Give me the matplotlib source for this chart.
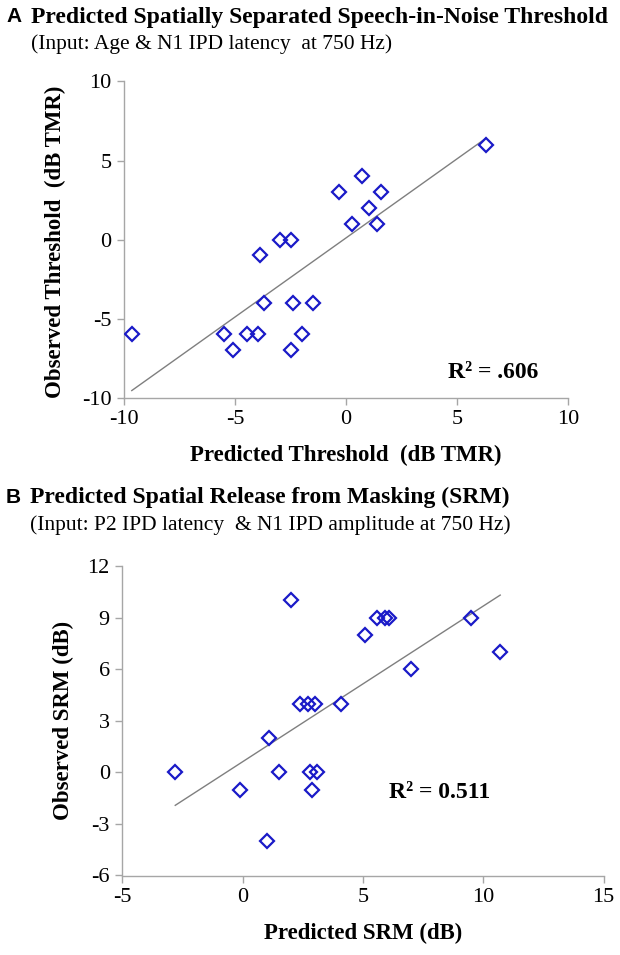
import numpy as np
import matplotlib
matplotlib.use("Agg")
import matplotlib.pyplot as plt

# Panel A: predicted vs observed threshold (dB TMR)
a_pred = [-9.65, -5.5, -5.1, -4.45, -3.95, -3.9, -3.7, -3.0, -2.5, -2.5,
          -2.4, -2.0, -1.5, -0.3, 0.25, 0.7, 1.05, 1.4, 1.55, 6.3]
a_obs = [-6, -6, -7, -6, -6, -1, -4, 0, 0, -7,
         -4, -6, -4, 3, 1, 4, 2, 1, 3, 6]
a_ticks = [-10, -5, 0, 5, 10]

# Panel B: predicted vs observed SRM (dB)
b_pred = [-2.8, -0.1, 1.1, 1.0, 1.5, 2.0, 2.4, 2.7, 3.0, 2.8,
          3.1, 2.9, 4.1, 5.1, 5.6, 5.9, 6.1, 7.0, 9.5, 10.7]
b_obs = [0, -1, 2, -4, 0, 10, 4, 4, 4, 0,
         0, -1, 4, 8, 9, 9, 9, 6, 9, 7]
b_xticks = [-5, 0, 5, 10, 15]
b_yticks = [-6, -3, 0, 3, 6, 9, 12]

W, H = 620, 955
SERIF = "Liberation Serif"
SANS = "Liberation Sans"
BLUE = "#1a1ac8"
AXIS_GREY = "#a6a6a6"
FS = 16


def fx(px):
    return px / W


def fy(py):
    return 1 - py / H


def make_axes(fig, left, right, top, bottom):
    ax = fig.add_axes([fx(left), fy(bottom), fx(right) - fx(left), fy(top) - fy(bottom)])
    for side in ("top", "right"):
        ax.spines[side].set_visible(False)
    for side in ("left", "bottom"):
        ax.spines[side].set_color(AXIS_GREY)
        ax.spines[side].set_linewidth(1.0)
    ax.tick_params(direction="out", length=5, width=1.0, color=AXIS_GREY,
                   labelsize=FS, pad=4)
    return ax


def scatter_fit(ax, xs, ys):
    xs = np.asarray(xs, float)
    ys = np.asarray(ys, float)
    k, b = np.polyfit(xs, ys, 1)
    lx = np.array([xs.min(), xs.max()])
    ax.plot(lx, k * lx + b, color="#7f7f7f", linewidth=1.0, zorder=2)
    ax.plot(xs, ys, linestyle="none", marker="D", markersize=6.8,
            markerfacecolor="none", markeredgecolor=BLUE, markeredgewidth=1.6, zorder=3)


def main():
    fig = plt.figure(figsize=(W / 100, H / 100), dpi=100)
    fig.patch.set_facecolor("white")

    # ---- Panel A ----
    fig.text(fx(6), fy(17), "A", family=SANS, weight="bold", fontsize=15, va="center")
    fig.text(fx(31), fy(17), "Predicted Spatially Separated Speech-in-Noise Threshold",
             family=SERIF, weight="bold", fontsize=17, va="center")
    fig.text(fx(31), fy(44), "(Input: Age & N1 IPD latency  at 750 Hz)",
             family=SERIF, fontsize=15.5, va="center")

    ax = make_axes(fig, 124, 568.3, 81.5, 397.7)
    scatter_fit(ax, a_pred, a_obs)
    ax.set_xlim(-10, 10)
    ax.set_ylim(-10, 10)
    ax.set_xticks(a_ticks)
    ax.set_yticks(a_ticks)
    ax.set_xticklabels([str(t) for t in a_ticks], family=SERIF)
    ax.set_yticklabels([str(t) for t in a_ticks], family=SERIF)
    ax.text(4.6, -8.4, "R² = .606", family=SERIF, weight="bold", fontsize=17,
            ha="left", va="center")
    fig.text(fx(346), fy(455), "Predicted Threshold  (dB TMR)", family=SERIF,
             weight="bold", fontsize=16.5, ha="center", va="center")
    fig.text(fx(55), fy(242), "Observed Threshold  (dB TMR)", family=SERIF,
             weight="bold", fontsize=16.5, ha="center", va="center", rotation=90)

    # ---- Panel B ----
    fig.text(fx(6), fy(497), "B", family=SANS, weight="bold", fontsize=15, va="center")
    fig.text(fx(30), fy(497), "Predicted Spatial Release from Masking (SRM)",
             family=SERIF, weight="bold", fontsize=17, va="center")
    fig.text(fx(30), fy(525), "(Input: P2 IPD latency  & N1 IPD amplitude at 750 Hz)",
             family=SERIF, fontsize=15.5, va="center")

    ax = make_axes(fig, 122.3, 603.7, 566, 875.5)
    scatter_fit(ax, b_pred, b_obs)
    ax.set_xlim(-5, 15)
    ax.set_ylim(-6, 12)
    ax.set_xticks(b_xticks)
    ax.set_yticks(b_yticks)
    ax.set_xticklabels([str(t) for t in b_xticks], family=SERIF)
    ax.set_yticklabels([str(t) for t in b_yticks], family=SERIF)
    ax.text(6.1, -1.2, "R² = 0.511", family=SERIF, weight="bold", fontsize=17,
            ha="left", va="center")
    fig.text(fx(363), fy(933), "Predicted SRM (dB)", family=SERIF,
             weight="bold", fontsize=16.5, ha="center", va="center")
    fig.text(fx(63), fy(720), "Observed SRM (dB)", family=SERIF,
             weight="bold", fontsize=16.5, ha="center", va="center", rotation=90)

    fig.savefig("out.png", dpi=100, facecolor="white")


if __name__ == "__main__":
    main()
